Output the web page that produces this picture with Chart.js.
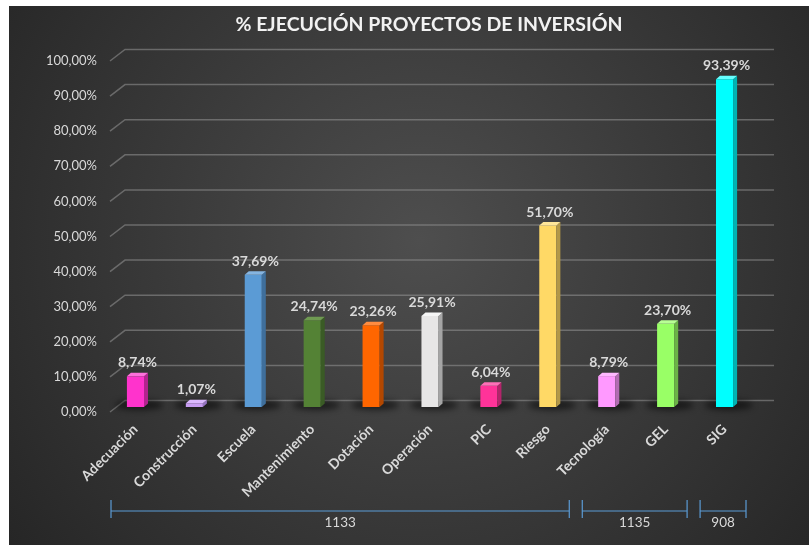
<!DOCTYPE html>
<html>
<head>
<meta charset="utf-8">
<script src="https://cdn.jsdelivr.net/npm/chart.js@4"></script>
<style>
    html, body { margin: 0; padding: 0; background: #ffffff; }
    #wrap { width: 809px; height: 545px; }
</style>
</head>
<body>
<div id="wrap"><canvas id="barChart" width="809" height="545"></canvas></div>
<script>
// datos del gráfico
const chartTitle = '% EJECUCIÓN PROYECTOS DE INVERSIÓN';
const categories = ['Adecuación', 'Construcción', 'Escuela', 'Mantenimiento', 'Dotación', 'Operación', 'PIC', 'Riesgo', 'Tecnología', 'GEL', 'SIG'];
const ejecucion = [8.74, 1.07, 37.69, 24.74, 23.26, 25.91, 6.04, 51.70, 8.79, 23.70, 93.39];
const yTicks = [0, 10, 20, 30, 40, 50, 60, 70, 80, 90, 100];
const groupLabels = ['1133', '1135', '908'];
const groupStart = [0, 8, 10];
const groupEnd = [7, 9, 10];

const barColors = ['#ff33cc', '#c79cf2', '#5b9bd5', '#548235', '#ff6600', '#e7e6e6', '#ff3399', '#ffd966', '#ff99ff', '#99ff66', '#00ffff'];
const sideColors = ['#b3238f', '#9473c0', '#3f6f9c', '#3a5b25', '#b34700', '#a5a5a5', '#b3246b', '#b39848', '#b36bb3', '#6bb347', '#00b3b3'];
const topColors = ['#ff70db', '#dbb8ff', '#85b5e1', '#6f9a52', '#ff8c40', '#f5f5f5', '#ff70b8', '#ffe699', '#ffb8ff', '#b8ff94', '#66ffff'];

const textColor = '#d9d9d9';
const fontFamily = 'Lato, "Open Sans", sans-serif';

function formatPct(v) {
    return v.toFixed(2).replace('.', ',') + '%';
}

// fondo oscuro con degradado y título
const backgroundPlugin = {
    id: 'fondo',
    beforeDraw(chart) {
        const ctx = chart.ctx;
        ctx.save();
        const g = ctx.createRadialGradient(420, 240, 0, 420, 240, 560);
        g.addColorStop(0, '#4e4e4e');
        g.addColorStop(1, '#222222');
        ctx.fillStyle = g;
        ctx.fillRect(9, 6, 800, 539);

        ctx.fillStyle = '#f2f2f2';
        ctx.font = 'bold 19.5px ' + fontFamily;
        ctx.textAlign = 'center';
        ctx.textBaseline = 'middle';
        ctx.fillText(chartTitle, 429, 25);
        ctx.restore();
    }
};

// líneas de la cuadrícula en perspectiva y sombras de las barras
const gridPlugin = {
    id: 'cuadricula3d',
    beforeDatasetsDraw(chart) {
        const ctx = chart.ctx;
        const y = chart.scales.y;
        ctx.save();
        ctx.strokeStyle = 'rgba(150,150,150,0.55)';
        ctx.lineWidth = 1.5;
        yTicks.forEach(function (v) {
            const py = y.getPixelForValue(v);
            ctx.beginPath();
            ctx.moveTo(110, py + 5);
            ctx.lineTo(125, py - 6.5);
            ctx.lineTo(774, py - 6.5);
            ctx.stroke();
        });

        // sombras en el piso
        const meta = chart.getDatasetMeta(0);
        ctx.filter = 'blur(3px)';
        ctx.fillStyle = 'rgba(0,0,0,0.55)';
        meta.data.forEach(function (bar) {
            ctx.beginPath();
            ctx.ellipse(bar.x + 4, bar.base - 2, 24, 5, 0, 0, Math.PI * 2);
            ctx.fill();
        });
        ctx.restore();
    }
};

// caras laterales y superiores, etiquetas de datos y grupos
const barras3dPlugin = {
    id: 'barras3d',
    afterDatasetsDraw(chart) {
        const ctx = chart.ctx;
        const meta = chart.getDatasetMeta(0);
        const dx = 4, dy = -3.5;
        ctx.save();
        meta.data.forEach(function (bar, i) {
            const left = bar.x - bar.width / 2;
            const right = bar.x + bar.width / 2;
            ctx.fillStyle = sideColors[i];
            ctx.beginPath();
            ctx.moveTo(right, bar.y);
            ctx.lineTo(right + dx, bar.y + dy);
            ctx.lineTo(right + dx, bar.base + dy);
            ctx.lineTo(right, bar.base);
            ctx.closePath();
            ctx.fill();

            ctx.fillStyle = topColors[i];
            ctx.beginPath();
            ctx.moveTo(left, bar.y);
            ctx.lineTo(left + dx, bar.y + dy);
            ctx.lineTo(right + dx, bar.y + dy);
            ctx.lineTo(right, bar.y);
            ctx.closePath();
            ctx.fill();

            ctx.fillStyle = textColor;
            ctx.font = 'bold 14px ' + fontFamily;
            ctx.textAlign = 'center';
            ctx.textBaseline = 'alphabetic';
            ctx.fillText(formatPct(ejecucion[i]), bar.x + 2, bar.y - 9);
        });

        // corchetes de los grupos
        const x = chart.scales.x;
        const step = x.getPixelForValue(1) - x.getPixelForValue(0);
        ctx.strokeStyle = '#5b9bd5';
        ctx.lineWidth = 1.2;
        ctx.fillStyle = textColor;
        ctx.font = '13.5px ' + fontFamily;
        ctx.textAlign = 'center';
        ctx.textBaseline = 'middle';
        groupLabels.forEach(function (lbl, k) {
            const x1 = x.getPixelForValue(groupStart[k]) - step / 2 + 5;
            const x2 = x.getPixelForValue(groupEnd[k]) + step / 2 - 8;
            ctx.beginPath();
            ctx.moveTo(x1, 500);
            ctx.lineTo(x1, 518);
            ctx.moveTo(x1, 511);
            ctx.lineTo(x2, 511);
            ctx.moveTo(x2, 500);
            ctx.lineTo(x2, 518);
            ctx.stroke();
            ctx.fillText(lbl, (x1 + x2) / 2, 523);
        });
        ctx.restore();
    }
};

const ctx = document.getElementById('barChart').getContext('2d');
new Chart(ctx, {
    type: 'bar',
    data: {
        labels: categories,
        datasets: [{
            label: '% Ejecución',
            data: ejecucion,
            backgroundColor: barColors,
            borderWidth: 0,
            categoryPercentage: 1,
            barPercentage: 0.29
        }]
    },
    options: {
        responsive: false,
        animation: false,
        layout: {
            padding: { left: 0, right: 55, top: 56, bottom: 0 }
        },
        plugins: {
            legend: { display: false },
            tooltip: { enabled: false },
            title: { display: false }
        },
        scales: {
            x: {
                grid: { display: false, drawTicks: false },
                border: { display: false },
                ticks: {
                    color: textColor,
                    font: { family: fontFamily, size: 14, weight: 'bold' },
                    minRotation: 45,
                    maxRotation: 45,
                    autoSkip: false,
                    padding: 14
                },
                afterFit(scale) { scale.height = 138; }
            },
            y: {
                min: 0,
                max: 100,
                grid: { display: false, drawTicks: false },
                border: { display: false },
                ticks: {
                    stepSize: 10,
                    color: textColor,
                    font: { family: fontFamily, size: 13 },
                    padding: 9,
                    labelOffset: 5,
                    callback: function (v) { return formatPct(v); }
                },
                afterFit(scale) { scale.width = 106; }
            }
        }
    },
    plugins: [backgroundPlugin, gridPlugin, barras3dPlugin]
});
</script>
</body>
</html>
